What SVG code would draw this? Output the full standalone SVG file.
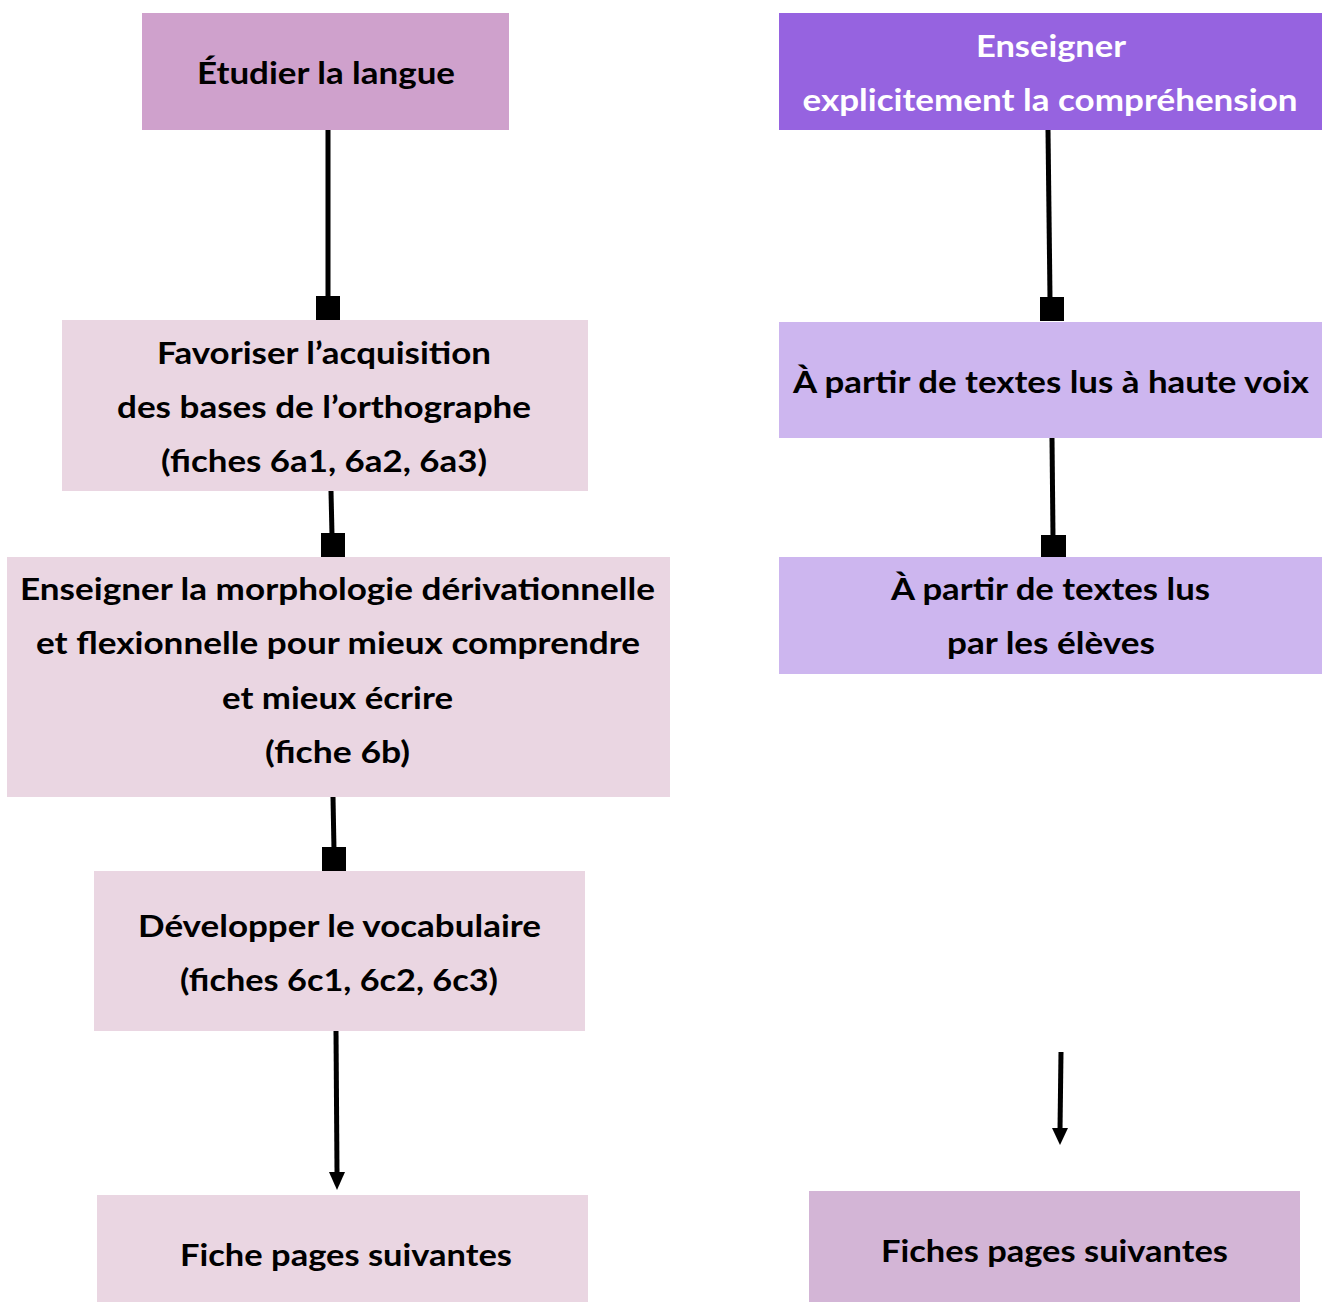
<svg xmlns="http://www.w3.org/2000/svg" width="1322" height="1302" viewBox="0 0 1322 1302">
<defs>
<style>
.t{font-family:Lato,"Open Sans","Liberation Sans",sans-serif;font-weight:700;font-size:30px;fill:#000;text-anchor:middle}
.w{fill:#fff}
.c{stroke:#000;stroke-width:5;fill:none}
</style>
<marker id="sq" viewBox="0 0 24 24" refX="12" refY="12" markerWidth="24" markerHeight="24" markerUnits="userSpaceOnUse" orient="auto">
<rect x="0" y="0" width="24" height="24" fill="#000"/>
</marker>
<marker id="ar" viewBox="0 0 18 18" refX="18" refY="9" markerWidth="18" markerHeight="18" markerUnits="userSpaceOnUse" orient="auto">
<path d="M0,0 L18,9 L0,18 Z" fill="#000"/>
</marker>
</defs>
<rect width="1322" height="1302" fill="#fff"/>
<g id="connectors">
<line class="c" x1="328" y1="125" x2="328" y2="296" />
<rect x="316" y="296" width="24" height="24" fill="#000"/>
<line class="c" x1="331" y1="491" x2="332" y2="535"/>
<rect x="321" y="533" width="24" height="24" fill="#000"/>
<line class="c" x1="333" y1="797" x2="334" y2="850"/>
<rect x="322" y="847" width="24" height="24" fill="#000"/>
<line class="c" x1="336" y1="1031" x2="337" y2="1172"/>
<path d="M329,1172 L345,1172 L337,1190 Z" fill="#000"/>
<line class="c" x1="1048" y1="130" x2="1050" y2="298"/>
<rect x="1040" y="297" width="24" height="24" fill="#000"/>
<line class="c" x1="1052" y1="438" x2="1053" y2="537"/>
<rect x="1041" y="535" width="25" height="24" fill="#000"/>
<line class="c" x1="1061" y1="1052" x2="1060" y2="1130"/>
<path d="M1052,1128 L1068,1128 L1060,1145 Z" fill="#000"/>
</g>
<g id="n1">
<rect x="142" y="13" width="367" height="117" fill="#CFA1CC"/>
<text class="t" x="326" y="84" textLength="258" lengthAdjust="spacingAndGlyphs">Étudier la langue</text>
</g>
<g id="n2">
<rect x="779" y="13" width="543" height="117" fill="#9663E0"/>
<text class="t w" x="1051" y="57" textLength="150" lengthAdjust="spacingAndGlyphs">Enseigner</text>
<text class="t w" x="1050" y="111" textLength="495" lengthAdjust="spacingAndGlyphs">explicitement la compréhension</text>
</g>
<g id="n3">
<rect x="62" y="320" width="526" height="171" fill="#EAD6E2"/>
<text class="t" x="324" y="364" textLength="334" lengthAdjust="spacingAndGlyphs">Favoriser l’acquisition</text>
<text class="t" x="324" y="418" textLength="414" lengthAdjust="spacingAndGlyphs">des bases de l’orthographe</text>
<text class="t" x="324" y="472" textLength="326" lengthAdjust="spacingAndGlyphs">(fiches 6a1, 6a2, 6a3)</text>
</g>
<g id="n4">
<rect x="7" y="557" width="663" height="240" fill="#EAD6E2"/>
<text class="t" x="337.5" y="600" textLength="635" lengthAdjust="spacingAndGlyphs">Enseigner la morphologie dérivationnelle</text>
<text class="t" x="338" y="654" textLength="604" lengthAdjust="spacingAndGlyphs">et flexionnelle pour mieux comprendre</text>
<text class="t" x="337.5" y="709" textLength="231" lengthAdjust="spacingAndGlyphs">et mieux écrire</text>
<text class="t" x="337.5" y="763" textLength="145" lengthAdjust="spacingAndGlyphs">(fiche 6b)</text>
</g>
<g id="n5">
<rect x="94" y="871" width="491" height="160" fill="#EAD6E2"/>
<text class="t" x="339.5" y="937" textLength="403" lengthAdjust="spacingAndGlyphs">Développer le vocabulaire</text>
<text class="t" x="339" y="991" textLength="318" lengthAdjust="spacingAndGlyphs">(fiches 6c1, 6c2, 6c3)</text>
</g>
<g id="n6">
<rect x="97" y="1195" width="491" height="107" fill="#EAD6E2"/>
<text class="t" x="346" y="1266" textLength="332" lengthAdjust="spacingAndGlyphs">Fiche pages suivantes</text>
</g>
<g id="n7">
<rect x="779" y="322" width="543" height="116" fill="#CDB6EF"/>
<text class="t" x="1051" y="393" textLength="516" lengthAdjust="spacingAndGlyphs">À partir de textes lus à haute voix</text>
</g>
<g id="n8">
<rect x="779" y="557" width="543" height="117" fill="#CDB6EF"/>
<text class="t" x="1050.5" y="600" textLength="319" lengthAdjust="spacingAndGlyphs">À partir de textes lus</text>
<text class="t" x="1051" y="654" textLength="208" lengthAdjust="spacingAndGlyphs">par les élèves</text>
</g>
<g id="n9">
<rect x="809" y="1191" width="491" height="111" fill="#D3B5D6"/>
<text class="t" x="1054.5" y="1262" textLength="347" lengthAdjust="spacingAndGlyphs">Fiches pages suivantes</text>
</g>
</svg>
